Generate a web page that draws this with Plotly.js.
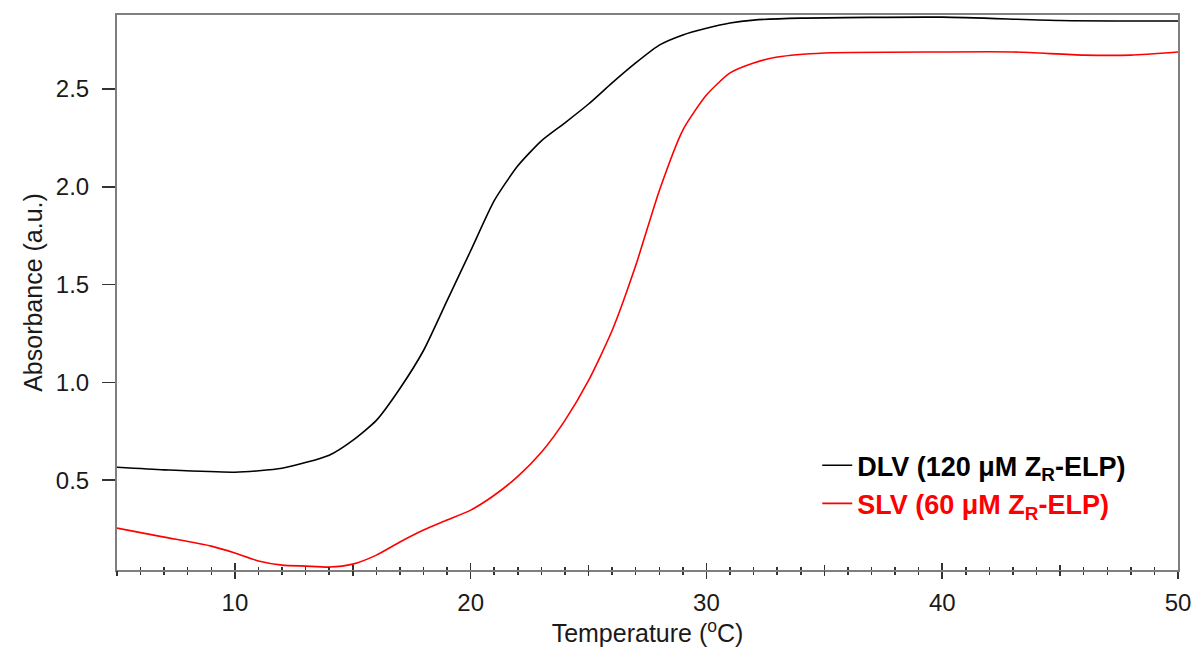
<!DOCTYPE html>
<html>
<head>
<meta charset="utf-8">
<script src="https://cdn.plot.ly/plotly-3.0.1.min.js"></script>
<style>html,body{margin:0;padding:0;background:#fff;}#chart{width:1194px;height:655px;}</style>
</head>
<body>
<div id="chart"></div>
<script>
// DLV (120 µM ZR-ELP)
const dlvTemp = [5, 7, 10, 12, 14, 15, 16, 17, 18, 19, 20, 21, 22, 23, 24, 25, 26, 27, 28, 29, 30, 31, 32, 34, 40, 45, 50];
const dlvAbs  = [0.566, 0.553, 0.541, 0.561, 0.628, 0.704, 0.806, 0.969, 1.163, 1.418, 1.673, 1.929, 2.107, 2.235, 2.327, 2.423, 2.531, 2.633, 2.724, 2.776, 2.810, 2.837, 2.852, 2.862, 2.867, 2.850, 2.847];
// SLV (60 µM ZR-ELP)
const slvTemp = [5, 7, 9, 10, 11, 12, 13, 14, 15, 16, 17, 18, 19, 20, 21, 22, 23, 24, 25, 26, 27, 28, 29, 30, 31, 32, 33, 35, 40, 43, 46, 48, 50];
const slvAbs  = [0.255, 0.209, 0.163, 0.128, 0.087, 0.066, 0.061, 0.056, 0.071, 0.117, 0.184, 0.245, 0.296, 0.347, 0.423, 0.520, 0.643, 0.806, 1.010, 1.265, 1.597, 1.980, 2.290, 2.469, 2.582, 2.633, 2.663, 2.684, 2.689, 2.689, 2.673, 2.673, 2.689];
const xMajorVals = [10, 20, 30, 40, 50];
const xMajorText = ['10', '20', '30', '40', '50'];
const xMidVals = [5, 15, 25, 35, 45];
const yTickVals = [0.5, 1.0, 1.5, 2.0, 2.5];
const yTickText = ['0.5', '1.0', '1.5', '2.0', '2.5'];

const traces = [
  {x: dlvTemp, y: dlvAbs, mode: 'lines', line: {color: '#000000', width: 1.6, shape: 'spline', smoothing: 0.6},
   name: '<b>DLV (120 μM Z<sub>R</sub>-ELP)</b>'},
  {x: slvTemp, y: slvAbs, mode: 'lines', line: {color: '#ff0000', width: 1.6, shape: 'spline', smoothing: 0.6},
   name: '<b><span style="color:#ff0000">SLV (60 μM Z<sub>R</sub>-ELP)</span></b>'},
  {x: [], y: [], xaxis: 'x2', showlegend: false, hoverinfo: 'skip'},
  {x: [], y: [], xaxis: 'x3', showlegend: false, hoverinfo: 'skip'},
  {x: [], y: [], xaxis: 'x4', showlegend: false, hoverinfo: 'skip'}
];

const tickCol = '#333333';
const overlayAxis = (vals, ticks, len, minor) => {
  const ax = {
    overlaying: 'x', anchor: 'y', side: 'bottom', range: [5, 50],
    tickmode: 'array', tickvals: vals,
    showticklabels: false, showgrid: false, zeroline: false, showline: false,
    ticks: ticks, ticklen: len, tickwidth: 1.5, tickcolor: tickCol
  };
  if (minor) ax.minor = {dtick: 1, ticks: ticks, ticklen: 3, tickwidth: 1.5, tickcolor: tickCol, showgrid: false};
  return ax;
};

const layout = {
  width: 1194, height: 655,
  margin: {l: 117, r: 16, t: 15, b: 85},
  paper_bgcolor: '#ffffff', plot_bgcolor: '#ffffff',
  font: {family: 'Liberation Sans, Arial, sans-serif', size: 24, color: '#1a1a1a'},
  showlegend: true,
  legend: {x: 0.66, y: 0.232, xanchor: 'left', yanchor: 'top', bgcolor: 'rgba(0,0,0,0)',
           font: {size: 27, color: '#000'}, itemwidth: 30},
  xaxis: {
    range: [5, 50], tickmode: 'array', tickvals: xMajorVals, ticktext: xMajorText,
    showgrid: false, zeroline: false, showline: true, linecolor: '#7f7f7f', linewidth: 2,
    mirror: true, ticks: 'outside', ticklen: 7, tickwidth: 1.5, tickcolor: tickCol,
    minor: {dtick: 1, ticks: 'outside', ticklen: 3, tickwidth: 1.5, tickcolor: tickCol, showgrid: false},
    tickfont: {size: 24, color: '#1a1a1a'}, ticklabelstandoff: 3,
    title: {text: 'Temperature (<sup>o</sup>C)', font: {size: 25, color: '#1a1a1a'}, standoff: 6}
  },
  xaxis2: overlayAxis(xMajorVals, 'inside', 7, true),
  xaxis3: overlayAxis(xMidVals, 'outside', 5, false),
  xaxis4: overlayAxis(xMidVals, 'inside', 5, false),
  yaxis: {
    range: [0.041, 2.878], tickmode: 'array', tickvals: yTickVals, ticktext: yTickText,
    showgrid: false, zeroline: false, showline: true, linecolor: '#7f7f7f', linewidth: 2,
    mirror: true, ticks: 'outside', ticklen: 13, tickwidth: 1.5, tickcolor: tickCol,
    tickfont: {size: 24, color: '#1a1a1a'}, ticklabelstandoff: 8,
    title: {text: 'Absorbance (a.u.)', font: {size: 25, color: '#1a1a1a'}, standoff: 6}
  }
};

Plotly.newPlot('chart', traces, layout, {staticPlot: true, displayModeBar: false});
</script>
</body>
</html>
